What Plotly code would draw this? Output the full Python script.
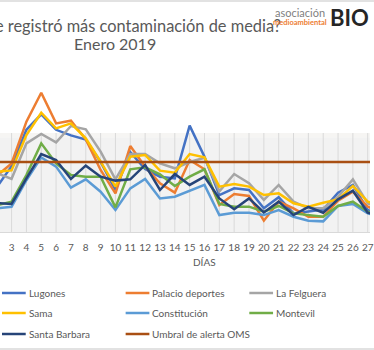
import plotly.graph_objects as go

days = list(range(2, 29))
lugones = [32, 47, 73, 84, 73, 69, 66, 50, 30, 57, 45, 39.5, 38.3, 76, 53.8, 26.4, 31.2, 30, 16.9, 24.8, 13.3, 14.5, 16, 28.1, 33.6, 15.7, 12]
palacio = [40, 49, 78.8, 99.5, 77.6, 79.5, 66.2, 44.3, 27.6, 61.4, 46.7, 34.8, 28.1, 51.4, 44.8, 19.3, 27.1, 25.7, 8.1, 21.7, 16.9, 10.9, 10.9, 22.4, 28.8, 18.1, 14]
felguera = [42, 38, 63.3, 70, 64, 75.7, 73.3, 57.4, 37.6, 55.7, 55.7, 49, 45.5, 50, 53, 29, 41.4, 34.8, 22.9, 33.6, 21.7, 16.9, 16.9, 25.2, 37.6, 20.5, 16]
sama = [43, 44, 69.3, 85.2, 74, 77.6, 66.9, 50.2, 32.4, 53.8, 55, 43.8, 42.4, 55.7, 53.3, 32.4, 34.3, 32.4, 26.4, 27.6, 20.5, 18.1, 20.9, 23.3, 32.9, 21.7, 18]
constitucion = [17, 18, 37, 53.3, 46.7, 31.7, 37.6, 28.8, 15.7, 31.2, 37.9, 24, 25.2, 29.3, 33.6, 12.1, 13.8, 13.8, 12.1, 15.7, 10.9, 8.1, 7.6, 18.6, 20, 13.3, 11]
montevil = [19, 21.7, 40.7, 63.3, 49, 40.7, 39.5, 39.5, 17.6, 44.8, 46.2, 41.2, 32.9, 39.5, 44.8, 20, 18.1, 18.1, 14.5, 18.6, 13.3, 12.1, 10.9, 18.6, 21.7, 14.5, 12]
santa_barbara = [20.7, 20, 38.3, 55.7, 51.4, 37.9, 47.4, 39.5, 36.7, 37.6, 47.9, 30, 41.4, 33.6, 39.5, 24, 16.2, 24, 14, 21.7, 12.1, 18, 13.8, 23.3, 29.5, 13.8, 11]
umbral = [50] * len(days)

names = ["Lugones", "Palacio deportes", "La Felguera", "Sama", "Constitución",
         "Montevil", "Santa Barbara", "Umbral de alerta OMS"]
series = [lugones, palacio, felguera, sama, constitucion, montevil, santa_barbara, umbral]
colors = ["#4472c4", "#ed7d31", "#a5a5a5", "#ffc000", "#5b9bd5", "#70ad47", "#264478", "#a94f13"]

tick_days = list(range(3, 28))
tick_text = [str(d) for d in tick_days]

title_line1 = "¿Dónde se registró más contaminación de media?"
title_line2 = "Enero 2019"

FONT = "Lato"
GREY = "#595959"
W, H = 374, 350
T, B = 60, 118
PH = H - T - B  # plot height in px


def px_y(y):
    """pixel row from top -> paper y"""
    return (H - B - y) / PH


fig = go.Figure()
for n, s, c in zip(names, series, colors):
    fig.add_trace(go.Scatter(x=days, y=s, name=n, mode="lines", showlegend=False,
                             line=dict(color=c, width=2.5), cliponaxis=True))

band_top = 70.7
shapes = [
    dict(type="rect", xref="paper", yref="y", x0=0, x1=1, y0=0, y1=band_top - 3,
         fillcolor="#f2f2f2", line=dict(width=0), layer="below"),
    dict(type="rect", xref="paper", yref="y", x0=0, x1=1, y0=band_top - 3, y1=band_top,
         fillcolor="#f6f5f3", line=dict(width=0), layer="below"),
]
for d in tick_days:
    shapes.append(dict(type="line", xref="x", yref="y", x0=d, x1=d, y0=0, y1=band_top,
                       line=dict(color="#d9d9d9", width=1), layer="below"))
# chart border lines (top / bottom)
shapes.append(dict(type="line", xref="paper", yref="paper", x0=-0.1, x1=1.1,
                   y0=px_y(1), y1=px_y(1), line=dict(color="#d9d9d9", width=1.5)))
shapes.append(dict(type="line", xref="paper", yref="paper", x0=-0.1, x1=1.1,
                   y0=px_y(349), y1=px_y(349), line=dict(color="#d9d9d9", width=1.5)))

annotations = [
    dict(text=title_line1, xref="paper", yref="paper", x=286 / W, y=px_y(25),
         xanchor="right", yanchor="middle", showarrow=False,
         font=dict(family=FONT, size=16.4, color=GREY)),
    dict(text=title_line2, xref="paper", yref="paper", x=116.5 / W, y=px_y(43.5),
         xanchor="center", yanchor="middle", showarrow=False,
         font=dict(family=FONT, size=16, color=GREY)),
    dict(text="DÍAS", xref="paper", yref="paper", x=206.5 / W, y=px_y(262),
         xanchor="center", yanchor="middle", showarrow=False,
         font=dict(family=FONT, size=10, color=GREY)),
    dict(text="asociación", xref="paper", yref="paper", x=303 / W, y=px_y(13),
         xanchor="center", yanchor="middle", showarrow=False,
         font=dict(family=FONT, size=11, color="#7f7f7f")),
    dict(text="<b>medioambiental</b>", xref="paper", yref="paper", x=303 / W, y=px_y(22),
         xanchor="center", yanchor="middle", showarrow=False,
         font=dict(family=FONT, size=7.5, color="#ed7d31")),
    dict(text="<b>BIO</b>", xref="paper", yref="paper", x=353 / W, y=px_y(17),
         xanchor="center", yanchor="middle", showarrow=False,
         font=dict(family=FONT, size=22, color="#262626")),
]

# legend (3 columns) built from series names/colours
leg_cols = [2, 127, 252]
leg_rows = [293, 313, 334]
for i, (n, c) in enumerate(zip(names, colors)):
    lx = leg_cols[i % 3]
    ly = leg_rows[i // 3]
    shapes.append(dict(type="line", xref="paper", yref="paper",
                       x0=lx / W, x1=(lx + 24) / W, y0=px_y(ly), y1=px_y(ly),
                       line=dict(color=c, width=2.5)))
    annotations.append(dict(text=n, xref="paper", yref="paper", x=(lx + 25) / W, y=px_y(ly),
                            xanchor="left", yanchor="middle", showarrow=False,
                            font=dict(family=FONT, size=10, color=GREY)))

fig.update_layout(
    width=W, height=H,
    margin=dict(l=0, r=0, t=T, b=B, pad=0),
    paper_bgcolor="white", plot_bgcolor="white",
    showlegend=False,
    xaxis=dict(range=[3 - 11.7 / 15, 27 + 2.3 / 15], tickvals=tick_days, ticktext=tick_text,
               showgrid=False, zeroline=False, showline=True, linecolor="#d9d9d9", linewidth=1,
               ticks="", ticklabelstandoff=6, ticklabeloverflow="allow",
               tickfont=dict(family=FONT, size=10, color=GREY)),
    yaxis=dict(range=[0, (232 - 60) / 1.4], showgrid=False, zeroline=False,
               showticklabels=False, showline=False),
    shapes=shapes, annotations=annotations,
)

fig.write_html("out.html")
